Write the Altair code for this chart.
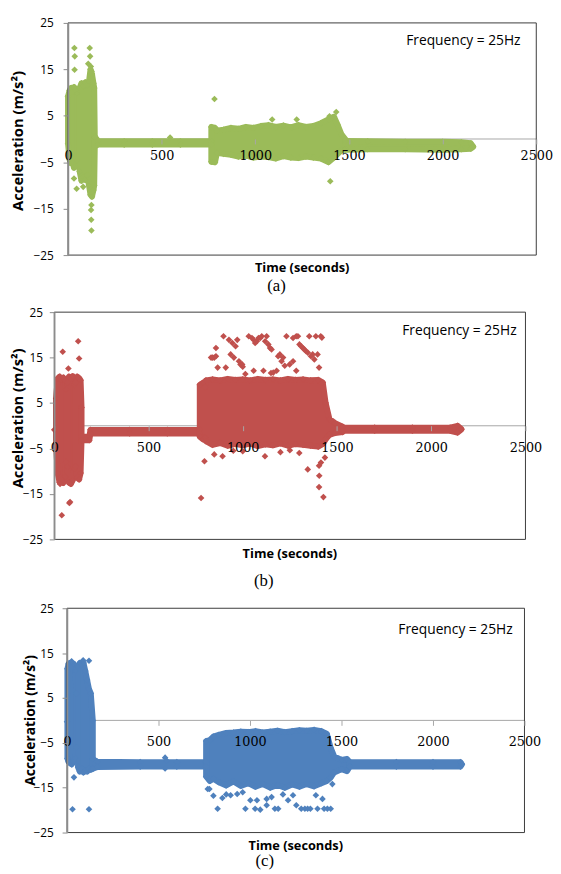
import altair as alt
import pandas as pd

GREEN = "#9BBB59"
RED = "#C0504D"
BLUE = "#4F81BD"
AXIS_GRAY = "#8C8C8C"
ZERO_GRAY = "#A6A6A6"
FRAME = "#3A3A3A"

X_DOMAIN = [0, 2500]
Y_DOMAIN = [-25, 25]
X_TICKS = [0, 500, 1000, 1500, 2000, 2500]
Y_TICKS = [-25, -15, -5, 5, 15, 25]

# ---------- panel (a): dense envelope segments (time, upper, lower) ----------
A_T = [
    [0, 8, 16, 24, 32, 40, 48],
    [62, 72, 82, 92, 102, 112, 120, 128, 136, 140, 143],
    [143, 160, 300, 450, 600, 765],
    [765, 785, 795, 830, 870, 910, 950, 990, 1030, 1070, 1110, 1150, 1190, 1230,
     1270, 1310, 1350, 1390, 1420, 1440, 1460, 1480],
    [1480, 1600, 1800, 2000, 2100, 2150, 2163],
]
A_HI = [
    [9.2, 10.4, 11.0, 10.2, 11.2, 10.6, 9.8],
    [11.0, 12.0, 11.4, 12.2, 11.6, 12.4, 15.0, 14.0, 12.0, 11.0, 0.5],
    [0.5, -0.4, -0.5, -0.5, -0.5, -0.5],
    [2.6, 2.4, 1.8, 2.0, 2.4, 2.2, 2.6, 2.4, 2.8, 3.0, 2.6, 2.9, 2.5, 3.0,
     2.6, 2.8, 3.4, 4.2, 4.8, 3.0, 1.0, 0.0],
    [-0.4, -0.5, -0.6, -0.6, -0.7, -0.9, -1.6],
]
A_LO = [
    [-1.0, -4.4, -5.2, -4.6, -6.2, -6.0, -4.6],
    [-7.0, -9.0, -8.2, -8.8, -7.8, -10.0, -12.0, -12.4, -11.0, -10.0, -1.6],
    [-1.6, -1.2, -1.2, -1.2, -1.2, -1.2],
    [-4.9, -5.0, -3.0, -3.2, -3.4, -3.8, -3.6, -4.0, -3.8, -3.9, -4.2, -3.7, -4.0, -4.1,
     -3.8, -4.0, -4.2, -5.0, -4.0, -3.2, -2.4, -2.2],
    [-2.3, -2.2, -2.2, -2.3, -2.2, -2.1, -1.7],
]
A_OUT_T = [0, 34, 36, 35, 116, 118, 108, 122, 126, 32, 46, 81, 125, 123, 124, 125,
           782, 545, 1090, 1221, 1396, 1432, 1400]
A_OUT_V = [9.2, 19.6, 17.8, 14.9, 19.6, 17.8, 16.2, 15.6, 14.6, -8.5, -10.7, -10.3,
           -14.2, -15.3, -17.4, -19.7, 8.6, 0.3, 4.2, 4.2, 4.9, 5.8, -9.1]

# ---------- panel (b) ----------
B_T = [
    [10, 18, 28, 38, 48, 58, 63],
    [69, 78, 88, 98, 107],
    [113, 122, 132, 140, 145],
    [145, 186, 192, 400, 600, 772],
    [772, 790, 800, 805, 840, 880, 920, 960, 1000, 1040, 1080, 1120, 1160, 1200,
     1240, 1280, 1320, 1360, 1400, 1425, 1440, 1460, 1490, 1530],
    [1530, 1700, 1900, 2100, 2140, 2160],
]
B_HI = [
    [6.0, 10.4, 10.8, 10.2, 10.6, 10.0, 8.0],
    [9.5, 10.8, 10.4, 10.9, 9.0],
    [9.5, 10.8, 10.5, 10.0, 4.0],
    [-2.4, -2.4, -0.9, -0.9, -0.9, -0.9],
    [9.0, 9.5, 8.5, 10.0, 10.2, 10.0, 10.3, 10.1, 10.2, 10.0, 10.3, 10.1, 10.2, 10.0,
     10.3, 10.1, 10.2, 10.0, 10.1, 9.5, 5.0, 1.5, 0.6, -0.2],
    [-0.4, -0.4, -0.4, -0.4, 0.0, -0.7],
]
B_LO = [
    [-4.0, -10.5, -12.4, -11.8, -12.6, -11.2, -8.0],
    [-9.0, -12.5, -12.8, -12.0, -9.5],
    [-9.0, -11.4, -11.8, -10.4, -3.2],
    [-3.2, -3.2, -1.7, -1.7, -1.7, -1.7],
    [-2.4, -3.0, -2.6, -3.4, -4.2, -3.8, -4.4, -4.0, -4.3, -3.9, -4.5, -4.1, -4.3, -3.9,
     -4.4, -4.0, -4.2, -4.4, -4.6, -4.0, -3.0, -2.0, -1.6, -1.4],
    [-1.1, -1.1, -1.1, -1.1, -1.5, -0.8],
]
B_OUT_T = [0, 45, 127, 132, 75, 40, 80, 31, 84,
           832, 849, 858, 867, 898, 910, 936, 953, 971, 988, 1014, 1032, 1058, 1075,
           1084, 1093, 1110, 1127, 1145, 1180, 1197, 1214, 1232, 1249, 1267, 1284,
           1293, 1301, 1319, 1336, 1353, 1371, 1397, 1405, 1414, 1000, 1150,
           840, 858, 927, 945, 962, 980, 997, 1049, 1066, 1101, 1119, 1136, 1153,
           1188, 1206, 1223, 1267, 1310, 1327, 1345, 1362, 1380, 1388, 1420, 1058,
           1284, 1162,
           779, 797, 849, 893, 950, 1000, 1118, 1200, 1250, 1300, 1345, 1405, 1406,
           1405, 1415, 1428, 1436]
B_OUT_V = [-0.9, 16.3, 18.6, 14.8, 12.6, -19.7, -17.0, -12.8, -16.8,
           15.0, 15.0, 17.1, 12.8, 19.7, 12.8, 15.7, 15.0, 18.9, 13.5, 11.4, 19.7, 18.9, 18.6,
           19.3, 19.3, 12.1, 19.7, 17.1, 12.1, 15.7, 15.0, 19.7, 13.5, 14.2, 19.7,
           19.7, 17.9, 17.1, 16.4, 19.7, 15.7, 15.7, 12.8, 19.7, 13.0, 11.6,
           15.0, 15.3, 18.9, 18.2, 17.5, 14.2, 13.5, 19.3, 18.2, 19.7, 18.6, 17.9, 16.8,
           15.3, 14.2, 13.2, 19.3, 17.5, 16.8, 16.1, 15.3, 14.6, 19.7, 19.4, 12.1,
           12.1, 11.7,
           -15.9, -7.8, -6.3, -6.7, -5.5, -5.6, -6.7, -5.8, -5.4, -6.0, -9.6, -8.8, -11.0,
           -13.5, -8.1, -15.7, -7.0]

# ---------- panel (c) ----------
C_T = [
    [2, 8, 16, 26, 36, 46, 52],
    [60, 70, 80, 90, 100, 110, 120, 130, 141],
    [141, 165, 400, 600, 760],
    [760, 780, 800, 830, 870, 910, 950, 990, 1030, 1070, 1110, 1150, 1190, 1230,
     1270, 1310, 1350, 1390, 1420, 1440, 1460, 1500, 1530, 1545],
    [1545, 1800, 2000, 2150, 2158],
]
C_HI = [
    [11.5, 12.6, 12.8, 12.0, 12.6, 11.0, 6.0],
    [12.2, 12.8, 12.4, 12.8, 11.0, 9.0, 7.0, 6.0, 0.0],
    [-8.6, -9.2, -9.3, -9.3, -9.3],
    [-4.6, -4.4, -3.6, -3.2, -2.8, -2.7, -2.5, -2.6, -2.4, -2.7, -2.5, -2.3, -2.6, -2.4,
     -2.2, -2.3, -2.1, -2.4, -3.0, -6.0, -8.0, -8.8, -8.6, -9.3],
    [-9.3, -9.3, -9.3, -9.3, -9.8],
]
C_LO = [
    [-8.5, -9.2, -9.5, -9.8, -9.2, -8.4, -6.0],
    [-10.4, -11.4, -10.8, -11.6, -11.2, -11.4, -10.8, -11.0, -10.6],
    [-10.8, -10.4, -10.3, -10.3, -10.3],
    [-12.5, -13.5, -13.0, -13.8, -14.5, -13.6, -14.6, -14.0, -14.8, -14.2, -15.0, -14.4,
     -15.0, -14.3, -14.8, -14.2, -14.7, -14.0, -13.5, -12.8, -11.6, -10.9, -11.3, -10.3],
    [-10.3, -10.3, -10.3, -10.3, -9.8],
]
C_OUT_T = [0, 30, 120, 38, 25, 88, 120, 536, 536, 545, 769, 778, 800, 823, 849, 870,
           894, 930, 960, 975, 1002, 1028, 1038, 1056, 1091, 1091, 1118, 1136, 1154,
           1180, 1208, 1235, 1253, 1280, 1300, 1315, 1330, 1360, 1369, 1396, 1405,
           1423, 1441, 1450]
C_OUT_V = [-0.3, -19.8, -19.8, -12.7, 13.2, 13.4, 13.3, -8.3, -10.7, -9.0, -15.3, -15.3,
           -16.8, -19.7, -17.3, -16.5, -16.7, -16.4, -16.0, -19.7, -17.8, -19.7, -17.8,
           -19.9, -18.9, -17.5, -17.1, -19.7, -19.7, -16.5, -17.8, -16.7, -18.9, -19.7,
           -19.7, -19.7, -19.7, -16.7, -19.7, -17.5, -19.7, -19.7, -19.7, -14.2]

FREQ_TEXT = "Frequency = 25Hz"
Y_TITLE = "Acceleration (m/s²)"
X_TITLE = "Time (seconds)"


def band_frame(ts, his, los):
    rows = []
    for k, (t, h, l) in enumerate(zip(ts, his, los)):
        seg = pd.DataFrame({"t": t, "hi": h, "lo": l})
        seg["seg"] = k
        rows.append(seg)
    return pd.concat(rows, ignore_index=True)


def panel(ts, his, los, ot, ov, color, caption, p):
    W, H, e = p["W"], p["H"], p["e"]
    band = band_frame(ts, his, los)
    outl = pd.DataFrame({"t": ot, "v": ov})
    one = pd.DataFrame({"k": [0]})
    frame_df = pd.DataFrame({"x0": [X_DOMAIN[0]], "x1": [X_DOMAIN[1]],
                             "y0": [Y_DOMAIN[0]], "y1": [Y_DOMAIN[1]], "z": [0]})
    # the plot area starts e pixels right of the panel origin
    xs = alt.Scale(domain=X_DOMAIN, range=[e, e + W], nice=False, zero=False)
    ys = alt.Scale(domain=Y_DOMAIN, nice=False, zero=False)
    xaxis = alt.Axis(values=X_TICKS, format="d", title=None, offset=-H / 2, domain=False,
                     grid=False, ticks=True, tickColor=ZERO_GRAY, tickSize=5, tickWidth=1,
                     labelFont="DejaVu Serif", labelFontSize=13, labelColor="#000000",
                     labelPadding=p["xlp"], labelFlush=False, labelOverlap=False, zindex=1)
    yaxis = alt.Axis(values=Y_TICKS, format="d", title=None, grid=False, offset=-e,
                     domainColor=AXIS_GRAY, domainWidth=1.5, tickColor=AXIS_GRAY,
                     tickSize=5, labelFont="Open Sans", labelFontSize=12,
                     labelColor="#000000", labelPadding=p["ylp"], zindex=1)

    def X(f):
        return alt.X(f, scale=xs, axis=xaxis)

    def Y(f):
        return alt.Y(f, scale=ys, axis=yaxis)

    frame = alt.Chart(frame_df).mark_rect(fillOpacity=0, stroke=FRAME, strokeWidth=1).encode(
        x=X("x0:Q"), x2="x1:Q", y=Y("y0:Q"), y2="y1:Q")
    zero = alt.Chart(frame_df).mark_rule(color=ZERO_GRAY, strokeWidth=1).encode(
        x=X("x0:Q"), x2="x1:Q", y=Y("z:Q"))
    area = alt.Chart(band).mark_area(
        fill=color, stroke=color, strokeWidth=6, strokeJoin="round", opacity=1,
        fillOpacity=1).encode(x=X("t:Q"), y=Y("lo:Q"), y2="hi:Q", detail="seg:N")
    hi_pts = alt.Chart(band).mark_point(shape="diamond", filled=True, size=45,
                                        color=color, opacity=1).encode(
        x=X("t:Q"), y=Y("hi:Q"))
    lo_pts = alt.Chart(band).mark_point(shape="diamond", filled=True, size=45,
                                        color=color, opacity=1).encode(
        x=X("t:Q"), y=Y("lo:Q"))
    outs = alt.Chart(outl).mark_point(shape="diamond", filled=True, size=45,
                                      color=color, opacity=1).encode(
        x=X("t:Q"), y=Y("v:Q"))
    freq = alt.Chart(one).mark_text(text=FREQ_TEXT, font="Open Sans", fontSize=14,
                                    align="right", baseline="middle", color="#000000").encode(
        x=alt.value(e + W - p["fdx"]), y=alt.value(p["fy"]))
    ytitle = alt.Chart(one).mark_text(text=Y_TITLE, font="Open Sans", fontWeight="bold",
                                      fontSize=p["yfs"], angle=270, align="center",
                                      baseline="middle", color="#000000").encode(
        x=alt.value(e + p["ytx"]), y=alt.value(p["yty"]))
    xtitle = alt.Chart(one).mark_text(text=X_TITLE, font="Open Sans", fontWeight="bold",
                                      fontSize=13, align="center", baseline="middle",
                                      color="#000000").encode(
        x=alt.value(e + W / 2), y=alt.value(p["xty"]))
    cap = alt.Chart(one).mark_text(text=caption, font="Liberation Serif", fontSize=17,
                                   align="center", baseline="middle", color="#000000").encode(
        x=alt.value(e + p["cx"]), y=alt.value(p["cy"]))
    # invisible frame that fixes the panel's outer extent
    spacer = alt.Chart(one).mark_rule(color="white", strokeWidth=1).encode(
        x=alt.value(e + p["sp"]), y=alt.value(-p["top"]), y2=alt.value(H + p["bot"]))
    return alt.layer(spacer, zero, area, hi_pts, lo_pts, outs, frame, freq, ytitle,
                     xtitle, cap).properties(width=e + W, height=H)


PA = dict(W=476, H=236, e=14, xlp=6, ylp=10, sp=-60, top=7, bot=40, ytx=-51, yty=120,
          yfs=15, xty=249, cx=212, cy=268, fdx=16, fy=18)
PB = dict(W=479, H=231, e=0, xlp=11, ylp=7, sp=-46, top=7, bot=52, ytx=-37, yty=108,
          yfs=15, xty=246, cx=213, cy=273, fdx=9, fy=19)
PC = dict(W=465, H=228, e=13, xlp=11, ylp=9, sp=-59, top=7, bot=36, ytx=-37, yty=114,
          yfs=14, xty=242, cx=201, cy=257, fdx=12, fy=22)

pa = panel(A_T, A_HI, A_LO, A_OUT_T, A_OUT_V, GREEN, "(a)", PA)
pb = panel(B_T, B_HI, B_LO, B_OUT_T, B_OUT_V, RED, "(b)", PB)
pc = panel(C_T, C_HI, C_LO, C_OUT_T, C_OUT_V, BLUE, "(c)", PC)

chart = alt.vconcat(pa, pb, pc, spacing=9).properties(
    padding=0, background="white"
).configure_view(stroke="transparent", strokeWidth=0)

chart.save("out.html", embed_options={"renderer": "svg", "actions": False})
